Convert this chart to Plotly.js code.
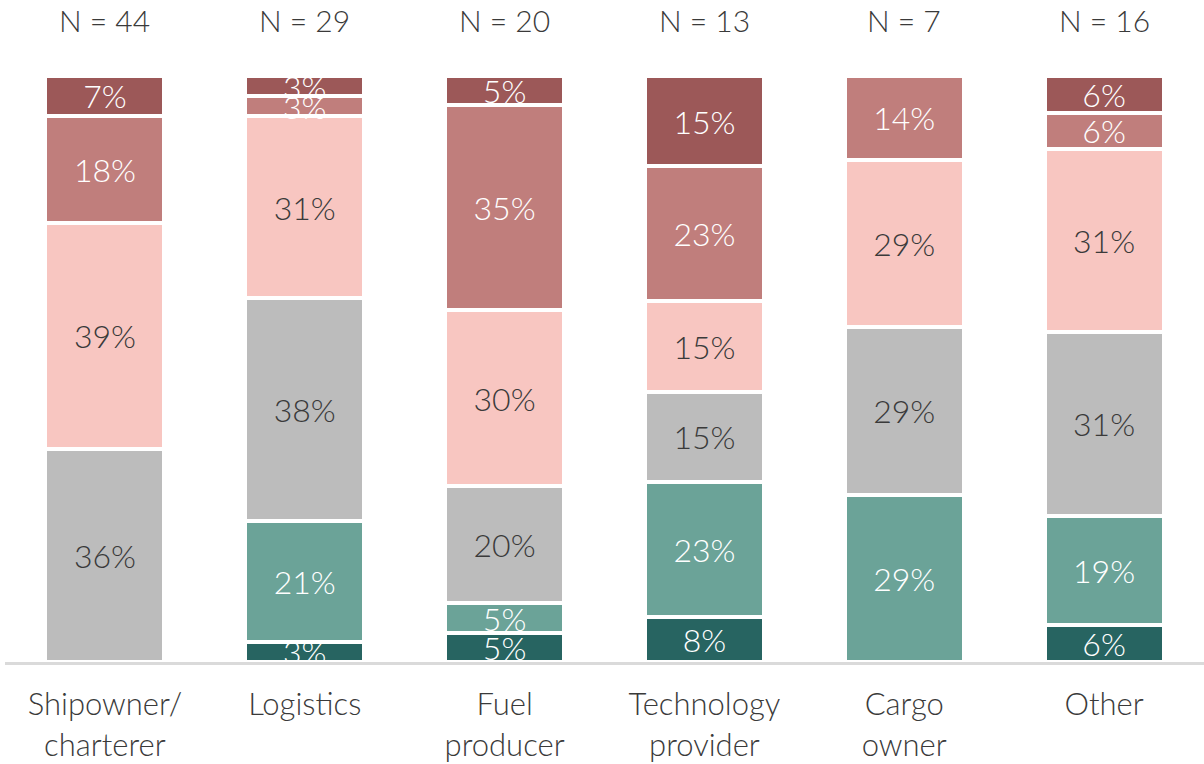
<!DOCTYPE html>
<html>
<head>
<meta charset="utf-8">
<script src="https://cdn.plot.ly/plotly-3.0.1.min.js"></script>
<style>html,body{margin:0;padding:0;background:#fff;}#chart{width:1204px;height:764px;}</style>
</head>
<body>
<div id="chart"></div>
<script>
const categories = ["Shipowner/<br>charterer", "Logistics", "Fuel<br>producer", "Technology<br>provider", "Cargo<br>owner", "Other"];
const sampleSizes = [44, 29, 20, 13, 7, 16];
// share of respondents per segment (%), bottom to top
const darkTeal  = [0,     3.45,  5,  7.69, 0,     6.25];
const lightTeal = [0,    20.69,  5, 23.08, 28.57, 18.75];
const grey      = [36.36, 37.93, 20, 15.38, 28.57, 31.25];
const lightPink = [38.64, 31.03, 30, 15.38, 28.57, 31.25];
const midPink   = [18.18,  3.45, 35, 23.08, 14.29,  6.25];
const darkRed   = [ 6.82,  3.45,  5, 15.38, 0,      6.25];

const seriesList = [
  {vals: darkTeal,  color: "#276461", text: "#ffffff"},
  {vals: lightTeal, color: "#6ba398", text: "#ffffff"},
  {vals: grey,      color: "#bcbcbc", text: "#3a3a3a"},
  {vals: lightPink, color: "#f8c6c1", text: "#3a3a3a"},
  {vals: midPink,   color: "#c07e7c", text: "#ffffff"},
  {vals: darkRed,   color: "#9c5858", text: "#ffffff"}
];
const FONT = "Lato, Inter, 'Liberation Sans', sans-serif";

const traces = seriesList.map(s => ({
  type: "bar",
  x: categories,
  y: s.vals,
  width: 0.595,
  text: s.vals.map(v => v > 0 ? Math.round(v) + "%" : ""),
  textposition: "inside",
  insidetextanchor: "middle",
  constraintext: "none",
  textfont: {family: FONT, size: 32, color: s.text, weight: 300},
  marker: {color: s.color, line: {color: "#ffffff", width: 4}},
  hoverinfo: "skip",
  showlegend: false
}));

const annotations = categories.map((c, i) => ({
  x: c, y: 1, xref: "x", yref: "paper",
  yshift: 56, yanchor: "middle",
  text: "N = " + sampleSizes[i],
  showarrow: false,
  font: {family: FONT, size: 30, color: "#3a3a3a", weight: 300}
}));

const layout = {
  width: 1204, height: 764,
  margin: {l: 5, r: 0, t: 76, b: 102, pad: 0},
  barmode: "stack",
  paper_bgcolor: "#ffffff",
  plot_bgcolor: "#ffffff",
  showlegend: false,
  xaxis: {
    type: "category",
    showline: true, linecolor: "#dadada", linewidth: 3,
    showgrid: false, zeroline: false, ticks: "",
    tickfont: {family: FONT, size: 31, color: "#3a3a3a", weight: 300},
    ticklabelstandoff: 13
  },
  yaxis: {
    range: [0, 100], visible: false, showgrid: false, zeroline: false, fixedrange: true
  },
  annotations: annotations
};

Plotly.newPlot("chart", traces, layout, {displayModeBar: false, staticPlot: true});
</script>
</body>
</html>
